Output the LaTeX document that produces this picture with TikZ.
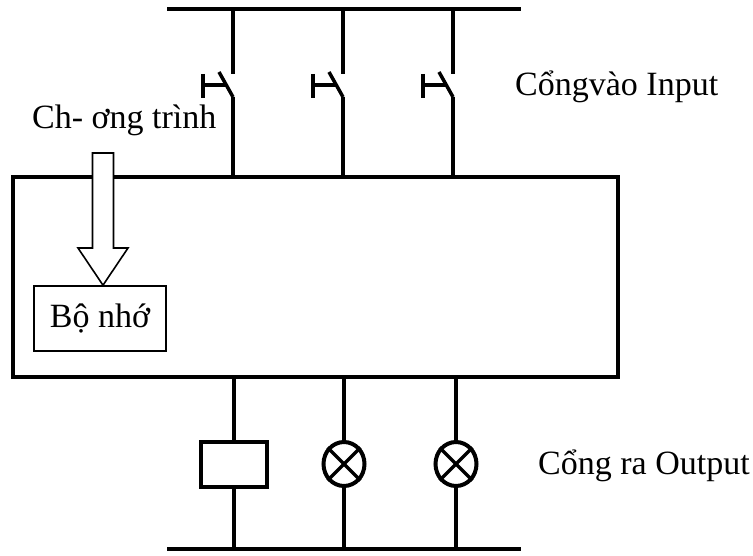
\documentclass[tikz,border=0pt]{standalone}
\usepackage{fontspec}
\setmainfont{Liberation Serif}
\usetikzlibrary{shapes.geometric}
\tikzset{
	wire/.style={line width=4pt, color=black},
	label/.style={inner sep=0pt, font=\fontsize{34}{36}\selectfont},
	lamp/.style={draw, ellipse, line width=4pt, minimum width=41pt, minimum height=44pt, inner sep=0pt},
}
\def\pushswitch(#1)(#2)(#3){
	\draw[wire] (#1) -- ++(0,65);
	\draw[wire, line width=3.5pt] (#2) -- ++(-14,-25);
	\draw[wire] (#2) -- (#3);
	\draw[wire] (#2) ++(-30,-23) -- ++(0,24);
	\draw[wire, line width=3.5pt] (#2) ++(-30,-12) -- ++(24,0);
}
\def\lampcross(#1){
	\draw[line width=3.5pt] (#1.45) -- (#1.225);
	\draw[line width=3.5pt] (#1.135) -- (#1.315);
}

\begin{document}
\begin{tikzpicture}[x=1pt, y=-1pt]
			\useasboundingbox (0, 0) rectangle (753, 556);
			
			% main box
			\node[draw, line width=4pt, minimum width=605pt, minimum height=199pt, inner sep=0pt] (plc) at (315, 277) {};
			
			% top bus
			\coordinate (topL) at (167, 9.5);
			\coordinate (topR) at (521, 9.5);
			\draw[wire] (topL) -- (topR);
			
			\coordinate (inA) at (233, 9.5);
			\coordinate (inB) at (343, 9.5);
			\coordinate (inC) at (453, 9.5);
			\coordinate (swA) at (233, 97);
			\coordinate (swB) at (343, 97);
			\coordinate (swC) at (453, 97);
			\pushswitch(inA)(swA)(swA |- plc.north)
			\pushswitch(inB)(swB)(swB |- plc.north)
			\pushswitch(inC)(swC)(swC |- plc.north)
			
			\node[label, anchor=base west] (inlabel) at (515, 96) {Cổngvào Input};
			\node[label, anchor=base west] (proglabel) at (32, 129) {Ch- ơng trình};
			
			% memory
			\node[draw, line width=1.6pt, minimum width=132pt, minimum height=65pt, inner sep=0pt, label] (mem) at (100, 318.5) {\raisebox{-2pt}{Bộ nhớ}};
			
			\draw[line width=1.6pt, fill=white] (92.5, 153) -- (113.5, 153) -- (113.5, 248) -- (128, 248) -- (mem.north -| 103, 0) -- (78, 248) -- (92.5, 248) -- cycle;
			
			% outputs
			\node[draw, line width=4pt, minimum width=66pt, minimum height=45pt, inner sep=0pt] (relay) at (234, 464) {};
			\node[lamp] (lampA) at (344, 464) {};
			\node[lamp] (lampB) at (456, 464) {};
			\lampcross(lampA)
			\lampcross(lampB)
			
			\coordinate (botL) at (167, 549);
			\coordinate (botR) at (521, 549);
			\draw[wire] (botL) -- (botR);
			
			\draw[wire] (relay.north |- plc.south) -- (relay.north);
			\draw[wire] (relay.south) -- (relay.south |- botL);
			\draw[wire] (lampA.north |- plc.south) -- (lampA.north);
			\draw[wire] (lampA.south) -- (lampA.south |- botL);
			\draw[wire] (lampB.north |- plc.south) -- (lampB.north);
			\draw[wire] (lampB.south) -- (lampB.south |- botL);
			
			\node[label, anchor=base west] (outlabel) at (538, 474) {Cổng ra Output};
		\end{tikzpicture}
\end{document}
